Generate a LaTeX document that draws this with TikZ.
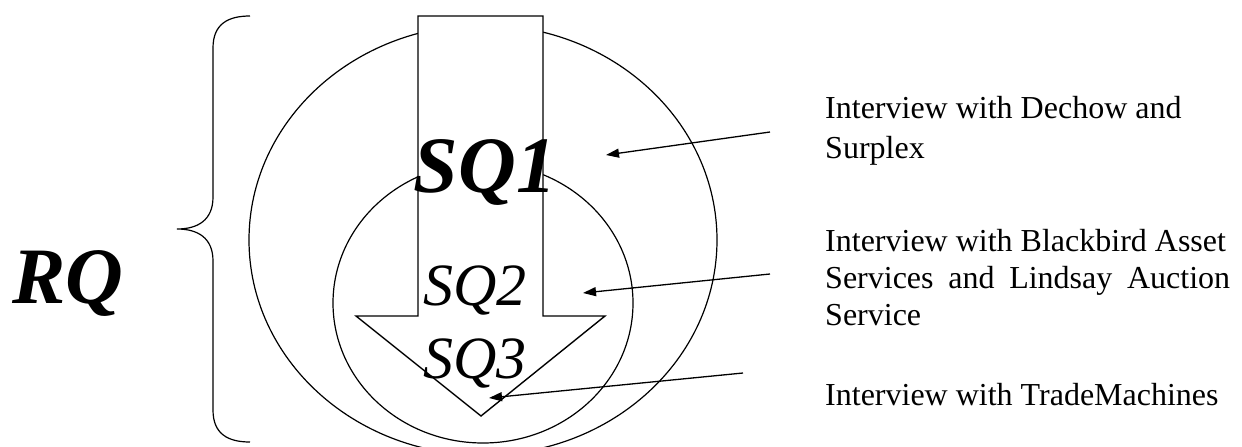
\documentclass[tikz,border=0pt]{standalone}
\usepackage{fontspec}
\setmainfont{Liberation Serif}
\usetikzlibrary{arrows.meta}
\begin{document}
\begin{tikzpicture}[x=1pt,y=-1pt,
  shapeline/.style={draw=black, line width=1.2pt},
  conn/.style={draw=black, line width=1.3pt, -{Triangle[length=13pt,width=9pt]}},
  itext/.style={anchor=base west, inner sep=0pt, font=\fontsize{32}{38}\selectfont},
  sqbig/.style={inner sep=0pt, anchor=base, font=\fontsize{80}{80}\selectfont\bfseries\itshape},
  sqmid/.style={inner sep=0pt, anchor=base, font=\fontsize{60}{60}\selectfont\itshape}]
\useasboundingbox (0,0) rectangle (1242,447);
\clip (0,0) rectangle (1242,447);
% circles
\draw[shapeline] (483,240) ellipse [x radius=234pt, y radius=215pt];
\draw[shapeline] (483,303) ellipse [x radius=150pt, y radius=140pt];
% big arrow
\draw[shapeline, fill=white, line width=1.4pt, line join=miter]
  (418,16) -- (543,16) -- (543,316) -- (605,316) -- (481,416) -- (356,316) -- (418,316) -- cycle;
% brace
\draw[shapeline] (250,16) .. controls (228,16) and (213,24) .. (213,48) -- (213,197)
  .. controls (213,220) and (198,229) .. (177,229)
  .. controls (198,229) and (213,238) .. (213,261) -- (213,410)
  .. controls (213,434) and (228,442) .. (250,442);
% labels
\node[sqbig] (rq) at (68,303) {RQ};
\node[sqbig] (sq1) at (485,192) {SQ1};
\node[sqmid] (sq2) at (475,305) {SQ2};
\node[sqmid] (sq3) at (475,378) {SQ3};
\node[itext] (t1a) at (825,118) {Interview with Dechow and};
\node[itext] (t1b) at (825,158) {Surplex};
\node[itext] (t2a) at (825,251) {Interview with Blackbird Asset};
\node[itext] (t2b) at (825,288) {\makebox[405pt][s]{Services and Lindsay Auction}};
\node[itext] (t2c) at (825,325) {Service};
\node[itext] (t3) at (825,405) {Interview with TradeMachines};
% connectors
\coordinate (s1) at (770,132); \coordinate (e1) at (606,155);
\coordinate (s2) at (770,274); \coordinate (e2) at (583,293);
\coordinate (s3) at (743,373); \coordinate (e3) at (489,398);
\draw[conn] (s1) -- (e1);
\draw[conn] (s2) -- (e2);
\draw[conn] (s3) -- (e3);
\end{tikzpicture}
\end{document}
